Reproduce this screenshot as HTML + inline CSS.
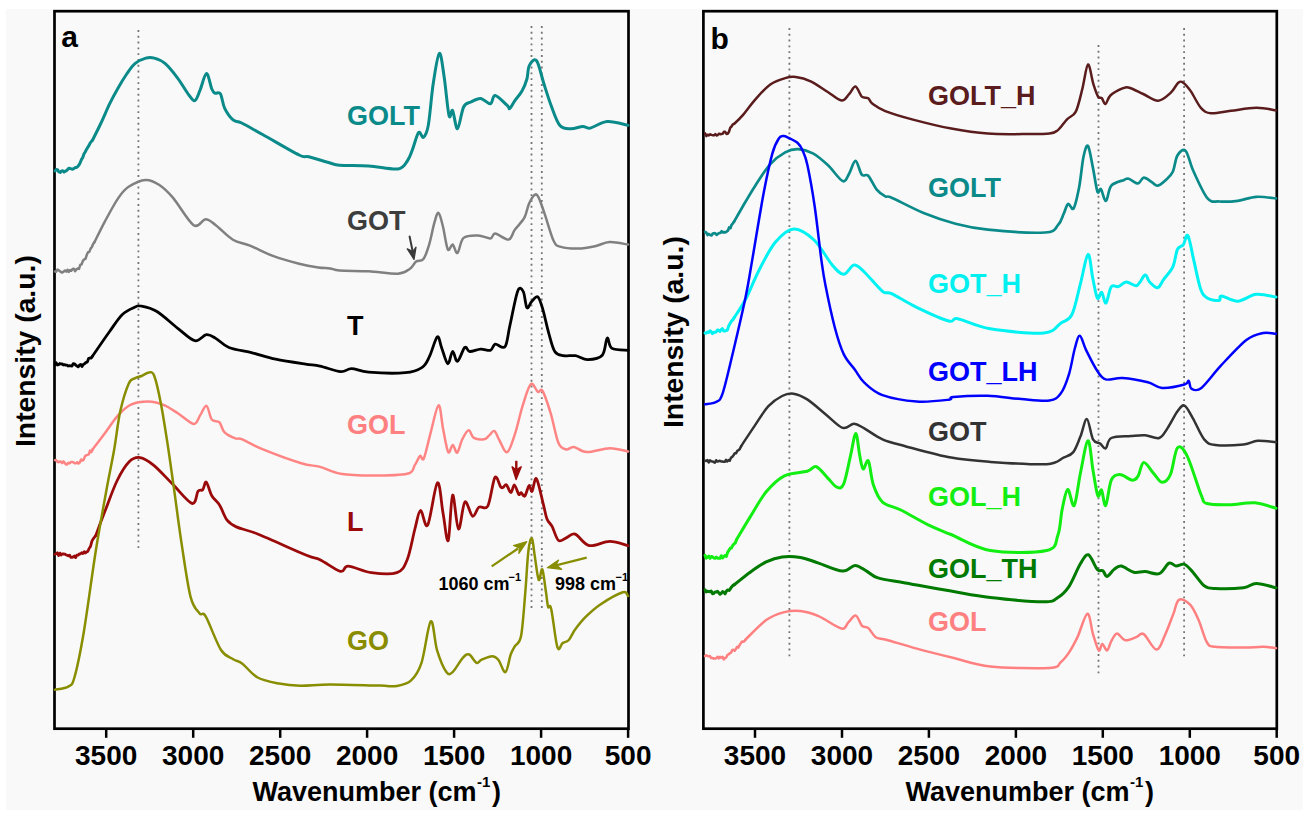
<!DOCTYPE html>
<html><head><meta charset="utf-8"><title>FTIR spectra</title>
<style>
html,body{margin:0;padding:0;background:#ffffff;width:1315px;height:819px;overflow:hidden}
svg{display:block}
text{font-family:"Liberation Sans",sans-serif;font-weight:bold}
</style></head><body>
<svg width="1315" height="819" viewBox="0 0 1315 819">
<rect x="6" y="9" width="1297" height="801" fill="#f9f9f9"/>

<rect x="54.5" y="11.2" width="574.0" height="717.5" fill="none" stroke="#000" stroke-width="2.7"/>
<line x1="106.2" y1="728.7" x2="106.2" y2="737.8" stroke="#000" stroke-width="2.5"/>
<text x="106.2" y="764.6" font-size="28" text-anchor="middle">3500</text>
<line x1="193.2" y1="728.7" x2="193.2" y2="737.8" stroke="#000" stroke-width="2.5"/>
<text x="193.2" y="764.6" font-size="28" text-anchor="middle">3000</text>
<line x1="280.2" y1="728.7" x2="280.2" y2="737.8" stroke="#000" stroke-width="2.5"/>
<text x="280.2" y="764.6" font-size="28" text-anchor="middle">2500</text>
<line x1="367.1" y1="728.7" x2="367.1" y2="737.8" stroke="#000" stroke-width="2.5"/>
<text x="367.1" y="764.6" font-size="28" text-anchor="middle">2000</text>
<line x1="454.1" y1="728.7" x2="454.1" y2="737.8" stroke="#000" stroke-width="2.5"/>
<text x="454.1" y="764.6" font-size="28" text-anchor="middle">1500</text>
<line x1="541.1" y1="728.7" x2="541.1" y2="737.8" stroke="#000" stroke-width="2.5"/>
<text x="541.1" y="764.6" font-size="28" text-anchor="middle">1000</text>
<line x1="628.1" y1="728.7" x2="628.1" y2="737.8" stroke="#000" stroke-width="2.5"/>
<text x="628.1" y="764.6" font-size="28" text-anchor="middle">500</text>
<text x="61.2" y="46.7" font-size="30">a</text>
<rect x="703.4" y="11.2" width="573.4" height="717.5" fill="none" stroke="#000" stroke-width="2.7"/>
<line x1="755.0" y1="728.7" x2="755.0" y2="737.8" stroke="#000" stroke-width="2.5"/>
<text x="755.0" y="764.6" font-size="28" text-anchor="middle">3500</text>
<line x1="842.0" y1="728.7" x2="842.0" y2="737.8" stroke="#000" stroke-width="2.5"/>
<text x="842.0" y="764.6" font-size="28" text-anchor="middle">3000</text>
<line x1="928.9" y1="728.7" x2="928.9" y2="737.8" stroke="#000" stroke-width="2.5"/>
<text x="928.9" y="764.6" font-size="28" text-anchor="middle">2500</text>
<line x1="1015.9" y1="728.7" x2="1015.9" y2="737.8" stroke="#000" stroke-width="2.5"/>
<text x="1015.9" y="764.6" font-size="28" text-anchor="middle">2000</text>
<line x1="1102.8" y1="728.7" x2="1102.8" y2="737.8" stroke="#000" stroke-width="2.5"/>
<text x="1102.8" y="764.6" font-size="28" text-anchor="middle">1500</text>
<line x1="1189.8" y1="728.7" x2="1189.8" y2="737.8" stroke="#000" stroke-width="2.5"/>
<text x="1189.8" y="764.6" font-size="28" text-anchor="middle">1000</text>
<line x1="1276.7" y1="728.7" x2="1276.7" y2="737.8" stroke="#000" stroke-width="2.5"/>
<text x="1276.7" y="764.6" font-size="28" text-anchor="middle">500</text>
<text x="710.6" y="48.5" font-size="30">b</text>
<text x="252.5" y="800.7" font-size="27">Wavenumber (cm<tspan dy="-14" dx="0.5" font-size="15">-1</tspan><tspan dy="14" dx="1.5">)</tspan></text>
<text x="905.5" y="800.7" font-size="27">Wavenumber (cm<tspan dy="-14" dx="0.5" font-size="15">-1</tspan><tspan dy="14" dx="1.5">)</tspan></text>
<text transform="translate(35,447) rotate(-90)" font-size="28.3">Intensity (a.u.)</text>
<text transform="translate(683,428) rotate(-90)" font-size="28.3">Intensity (a.u.)</text>
<line x1="138.4" y1="30" x2="138.4" y2="549" stroke="#767676" stroke-width="1.8" stroke-dasharray="1.9 3.9"/>
<line x1="531.5" y1="26" x2="531.5" y2="610" stroke="#767676" stroke-width="1.8" stroke-dasharray="1.9 3.9"/>
<line x1="541.8" y1="26" x2="541.8" y2="610" stroke="#767676" stroke-width="1.8" stroke-dasharray="1.9 3.9"/>
<line x1="789.4" y1="28" x2="789.4" y2="659" stroke="#767676" stroke-width="1.8" stroke-dasharray="1.9 3.9"/>
<line x1="1098.5" y1="45" x2="1098.5" y2="676" stroke="#767676" stroke-width="1.8" stroke-dasharray="1.9 3.9"/>
<line x1="1184.1" y1="28" x2="1184.1" y2="659" stroke="#767676" stroke-width="1.8" stroke-dasharray="1.9 3.9"/>
<path d="M55.0,170.9 L56.3,169.6 L57.6,169.7 L58.9,171.9 L60.2,172.4 L61.5,170.9 L62.8,170.8 L64.0,172.1 L65.2,171.3 L66.4,170.7 L67.6,169.6 L68.8,168.2 L70.0,168.5 L71.3,168.9 L72.6,169.3 L73.8,168.6 L75.1,167.6 L76.4,167.6 L77.7,166.6 L79.0,164.9 L80.2,162.8 L81.5,159.4 L82.7,157.7 L84.0,153.8 L85.2,152.0 L86.5,149.4 L87.7,147.4 L88.9,145.6 L90.1,143.1 L91.4,141.4 L92.6,140.0" fill="none" stroke="#0b8a8a" stroke-width="3.0" stroke-linejoin="round" stroke-linecap="round"/><path d="M92.6,140.0 C94.0,137.2 98.2,129.0 101.0,123.0 C103.8,117.0 106.8,109.8 109.6,103.9 C112.4,98.1 115.2,92.9 118.1,87.9 C120.9,82.9 123.9,78.1 126.7,74.0 C129.6,69.9 132.0,66.0 135.2,63.4 C138.4,60.8 142.6,59.0 145.8,58.1 C149.0,57.2 151.1,57.2 154.3,58.1 C157.5,59.0 161.1,60.0 165.0,63.4 C168.9,66.8 173.9,73.1 177.8,78.3 C181.7,83.5 185.6,90.6 188.4,94.3 C191.2,98.0 192.9,101.4 194.8,100.7 C196.8,100.0 198.2,94.5 200.1,90.0 C202.0,85.5 204.6,73.8 206.5,73.6 C208.4,73.4 210.4,85.7 211.8,89.0 C213.2,92.3 213.6,92.4 215.0,93.2 C216.4,94.0 218.8,91.2 220.4,93.7 C222.0,96.2 222.5,103.7 224.6,108.1 C226.7,112.5 230.2,117.4 233.1,119.9 C235.9,122.4 236.7,120.5 241.7,123.0 C246.7,125.5 253.4,129.5 263.0,134.8 C272.6,140.1 291.5,151.3 299.1,155.0 C306.7,158.7 303.6,155.4 308.7,156.7 C313.8,158.0 324.9,161.6 330.0,163.0 C335.1,164.4 333.1,164.8 339.5,165.3 C345.9,165.8 359.0,165.4 368.7,166.0 C378.4,166.6 391.4,169.9 397.9,169.0 C404.4,168.1 405.2,163.8 407.6,160.5 C410.0,157.2 410.7,154.2 412.5,149.5 C414.3,144.8 416.8,134.5 418.6,132.5 C420.4,130.5 421.8,138.5 423.4,137.3 C425.0,136.1 426.7,134.1 428.3,125.2 C429.9,116.3 431.4,95.8 433.2,83.8 C435.0,71.8 437.5,54.6 439.3,53.4 C441.1,52.2 442.5,66.2 444.1,76.5 C445.7,86.8 447.6,109.7 449.0,115.4 C450.4,121.1 451.2,108.4 452.6,110.6 C454.0,112.8 455.7,129.4 457.5,128.8 C459.3,128.2 461.4,111.5 463.6,107.0 C465.8,102.5 468.1,103.4 470.9,102.0 C473.7,100.6 477.4,98.1 480.6,98.4 C483.9,98.7 488.0,104.3 490.4,103.8 C492.8,103.3 492.4,95.2 495.2,95.5 C498.0,95.8 505.0,103.5 507.4,105.7 C509.8,107.9 508.6,109.4 509.8,108.6 C511.0,107.8 512.7,103.7 514.7,100.8 C516.7,97.9 520.0,94.7 522.0,91.1 C524.0,87.5 525.7,83.2 526.9,79.0 C528.1,74.8 527.7,68.6 529.3,65.6 C530.9,62.5 534.2,57.7 536.6,60.7 C539.0,63.7 541.5,76.3 543.9,83.8 C546.3,91.3 548.6,98.8 551.2,105.7 C553.8,112.6 556.5,121.3 559.7,125.2 C563.0,129.1 566.9,128.6 570.7,128.8 C574.6,129.0 579.6,126.5 582.8,126.4 C586.0,126.3 586.0,128.9 590.1,128.1 C594.2,127.3 600.9,122.0 607.2,121.5 C613.5,121.0 624.5,124.6 628.0,125.2" fill="none" stroke="#0b8a8a" stroke-width="3.0" stroke-linejoin="round" stroke-linecap="round"/>
<path d="M55.0,271.5 L56.2,271.7 L57.5,269.5 L58.7,270.3 L60.0,271.2 L61.2,272.2 L62.4,272.4 L63.7,271.5 L64.9,270.5 L66.2,271.7 L67.5,269.7 L68.7,272.0 L70.0,270.1 L71.3,270.8 L72.6,268.9 L73.9,268.7 L75.1,271.3 L76.4,269.4 L77.7,268.5 L79.0,268.9 L80.3,264.9 L81.6,264.3 L82.9,260.9 L84.2,259.3 L85.5,258.8 L86.8,254.8 L88.0,252.3 L89.3,251.9 L90.6,248.6 L91.9,247.0 L93.1,244.0 L94.4,242.3" fill="none" stroke="#808080" stroke-width="2.5" stroke-linejoin="round" stroke-linecap="round"/><path d="M94.4,242.3 C96.1,238.9 100.7,229.2 104.7,221.8 C108.7,214.4 114.4,203.7 118.4,197.9 C122.4,192.1 124.0,189.8 128.6,186.8 C133.1,183.8 140.6,180.2 145.7,179.9 C150.8,179.6 154.8,182.0 159.4,185.0 C164.0,188.0 167.4,191.2 173.1,197.9 C178.8,204.6 188.2,221.6 193.6,225.2 C199.0,228.8 201.9,219.2 205.6,219.2 C209.3,219.2 211.2,221.8 215.8,225.2 C220.4,228.6 227.2,236.3 232.9,239.7 C238.6,243.1 243.2,242.9 250.0,245.7 C256.8,248.4 265.4,253.2 273.6,256.2 C281.8,259.2 291.7,261.8 299.1,263.7 C306.6,265.6 313.2,266.7 318.3,267.5 C323.4,268.3 326.5,267.9 330.0,268.4 C333.5,268.9 333.1,270.0 339.5,270.5 C345.9,271.0 359.0,270.8 368.7,271.3 C378.4,271.8 391.0,274.1 397.9,273.7 C404.8,273.3 407.0,270.8 410.0,268.8 C413.0,266.8 413.9,263.1 416.1,261.5 C418.3,259.9 421.2,262.1 423.4,259.1 C425.6,256.1 427.7,249.4 429.5,243.3 C431.3,237.2 432.9,227.7 434.4,222.6 C435.9,217.5 437.1,212.3 438.5,212.9 C439.9,213.5 441.3,220.1 442.9,226.2 C444.4,232.3 446.2,246.3 447.8,249.4 C449.4,252.5 451.0,243.9 452.6,244.5 C454.2,245.1 455.7,254.1 457.5,253.0 C459.3,251.9 460.2,240.8 463.6,237.9 C467.1,235.0 473.7,235.4 478.2,235.5 C482.7,235.6 487.6,238.7 490.4,238.4 C493.2,238.1 492.2,233.3 495.2,233.5 C498.2,233.7 505.4,240.2 508.6,239.6 C511.9,239.0 512.1,233.6 514.7,229.9 C517.3,226.2 522.0,222.2 524.4,217.7 C526.8,213.2 527.3,206.9 529.3,203.1 C531.3,199.2 534.2,193.2 536.6,194.6 C539.0,196.0 541.1,203.9 543.9,211.6 C546.7,219.3 550.8,234.9 553.6,240.8 C556.4,246.7 556.8,245.6 560.9,246.9 C565.0,248.2 572.3,248.7 578.0,248.6 C583.7,248.5 589.7,247.3 595.0,246.2 C600.3,245.1 604.1,242.4 609.6,242.1 C615.1,241.8 624.9,244.1 628.0,244.5" fill="none" stroke="#808080" stroke-width="2.5" stroke-linejoin="round" stroke-linecap="round"/>
<path d="M55.0,364.8 L56.2,362.8 L57.4,365.0 L58.6,364.6 L59.8,363.5 L61.0,364.0 L62.2,363.9 L63.4,365.0 L64.6,364.7 L65.8,365.1 L67.0,365.2 L68.2,366.0 L69.5,365.7 L70.8,365.9 L72.0,366.0 L73.2,363.7 L74.5,363.9 L75.8,365.1 L77.0,366.1 L78.2,366.8 L79.5,365.1 L80.8,364.4 L82.0,366.5 L83.3,364.5 L84.7,363.6 L86.0,362.4 L87.3,362.1 L88.6,358.6 L89.9,357.9 L91.3,358.1 L92.6,356.0" fill="none" stroke="#000000" stroke-width="2.8" stroke-linejoin="round" stroke-linecap="round"/><path d="M92.6,356.0 C95.4,351.9 104.6,338.4 109.6,331.5 C114.6,324.6 118.1,318.6 122.4,314.5 C126.7,310.4 132.2,308.4 135.2,307.0 C138.2,305.6 136.9,305.3 140.5,306.0 C144.1,306.7 150.3,307.6 156.5,311.3 C162.7,315.0 171.4,323.4 177.8,328.3 C184.2,333.2 190.0,339.6 194.8,340.7 C199.6,341.8 202.9,335.0 206.5,334.7 C210.1,334.4 212.4,336.5 216.1,338.6 C219.8,340.7 222.9,345.1 228.9,347.5 C234.9,349.9 244.5,350.9 252.3,352.8 C260.1,354.8 266.8,357.3 275.7,359.2 C284.6,361.1 298.1,363.0 305.5,364.1 C312.9,365.2 314.1,364.8 320.0,366.1 C325.9,367.4 335.4,371.3 340.7,371.7 C346.0,372.1 346.9,368.5 351.6,368.6 C356.3,368.7 359.8,371.5 368.7,372.2 C377.6,372.9 396.3,373.5 405.2,372.7 C414.1,371.9 418.1,370.0 422.2,367.3 C426.2,364.6 427.0,361.5 429.5,356.4 C432.0,351.3 435.3,338.3 437.3,336.9 C439.3,335.5 439.9,343.4 441.7,347.9 C443.4,352.4 446.0,363.1 447.8,363.7 C449.6,364.3 451.0,351.9 452.6,351.5 C454.2,351.1 455.5,362.0 457.5,361.3 C459.5,360.6 462.8,349.0 464.8,347.4 C466.8,345.8 467.1,351.2 469.7,351.5 C472.3,351.8 477.2,349.3 480.6,349.1 C484.1,348.9 488.0,351.1 490.4,350.3 C492.8,349.5 492.8,344.8 495.2,344.2 C497.6,343.6 502.6,349.7 505.0,346.7 C507.4,343.7 507.7,335.2 509.8,326.0 C511.9,316.8 515.4,297.2 517.6,291.4 C519.8,285.6 521.7,288.7 523.2,291.4 C524.8,294.1 525.5,306.0 526.9,307.7 C528.3,309.4 529.9,303.4 531.7,301.6 C533.5,299.8 536.0,295.6 537.8,296.8 C539.6,298.0 540.9,302.8 542.7,308.9 C544.5,315.0 546.8,326.2 548.8,333.3 C550.8,340.4 552.4,347.8 554.8,351.5 C557.2,355.2 559.9,355.0 563.4,355.7 C566.9,356.4 571.5,355.0 575.5,355.7 C579.5,356.4 583.2,359.7 587.7,359.6 C592.2,359.5 599.0,358.8 602.3,355.2 C605.5,351.6 605.6,339.2 607.2,338.1 C608.8,337.0 608.5,346.4 612.0,348.4 C615.5,350.4 625.3,350.0 628.0,350.3" fill="none" stroke="#000000" stroke-width="2.8" stroke-linejoin="round" stroke-linecap="round"/>
<path d="M55.0,460.2 L56.2,460.1 L57.4,461.8 L58.6,462.2 L59.8,461.4 L61.0,461.8 L62.2,463.1 L63.4,461.4 L64.6,462.7 L65.8,464.4 L67.0,464.6 L68.3,462.8 L69.6,463.3 L70.8,462.1 L72.1,462.1 L73.4,462.3 L74.7,463.3 L76.0,463.3 L77.2,462.2 L78.5,463.6 L79.8,462.6 L81.1,459.5 L82.4,460.6 L83.6,459.9 L84.9,456.5 L86.2,455.2 L87.5,454.9 L88.8,454.4 L90.0,450.6 L91.3,452.1 L92.6,449.4" fill="none" stroke="#ff8585" stroke-width="2.5" stroke-linejoin="round" stroke-linecap="round"/><path d="M92.6,449.4 C94.7,446.6 101.2,438.1 105.4,432.4 C109.7,426.7 113.8,420.0 118.1,415.4 C122.3,410.8 125.9,407.0 130.9,404.7 C135.9,402.4 142.7,401.5 148.0,401.5 C153.3,401.5 157.9,402.8 162.9,404.7 C167.9,406.6 172.7,410.0 177.8,413.2 C182.9,416.4 190.0,423.5 193.7,423.9 C197.4,424.3 198.0,418.4 200.1,415.4 C202.2,412.4 204.6,405.1 206.5,405.8 C208.4,406.5 209.7,416.9 211.8,419.6 C213.9,422.3 217.2,420.1 219.3,422.2 C221.4,424.3 221.9,429.7 224.6,432.4 C227.3,435.1 232.5,437.3 235.3,438.4 C238.2,439.5 237.1,437.4 241.7,439.2 C246.3,441.0 253.1,445.4 263.0,449.4 C272.9,453.4 291.8,460.4 301.3,463.3 C310.8,466.2 313.5,465.1 320.0,466.9 C326.5,468.6 331.9,472.4 340.5,473.8 C349.1,475.2 360.2,475.6 371.3,475.6 C382.4,475.6 399.9,475.6 407.2,473.8 C414.5,472.0 412.8,467.9 414.9,464.9 C417.0,461.9 418.5,457.0 420.0,455.9 C421.5,454.8 422.1,462.1 423.8,458.5 C425.5,454.9 427.9,443.0 430.3,434.1 C432.8,425.2 436.4,406.2 438.5,405.4 C440.6,404.5 441.5,421.2 443.1,429.0 C444.7,436.8 446.6,449.5 448.2,452.1 C449.8,454.8 451.3,444.8 452.8,444.9 C454.3,445.0 455.6,453.6 457.2,452.6 C458.8,451.7 460.4,442.9 462.3,439.2 C464.2,435.5 466.8,430.5 468.7,430.3 C470.6,430.1 471.2,436.4 473.8,437.9 C476.4,439.4 481.5,439.6 484.1,439.2 C486.7,438.8 487.5,436.8 489.2,435.4 C490.9,434.0 492.7,430.1 494.4,431.0 C496.1,431.9 497.4,437.0 499.5,440.5 C501.6,444.0 504.6,453.2 507.2,452.1 C509.8,451.0 512.3,441.8 514.9,434.1 C517.5,426.4 520.0,414.2 522.6,405.9 C525.2,397.6 528.2,386.5 530.8,384.1 C533.3,381.8 535.9,390.7 537.9,391.8 C539.9,392.9 540.5,387.4 542.6,391.0 C544.8,394.6 548.1,404.9 550.8,413.6 C553.4,422.3 555.9,437.1 558.5,443.1 C561.1,449.1 563.7,448.9 566.2,449.5 C568.8,450.1 570.4,446.5 573.8,446.9 C577.2,447.3 580.7,451.9 586.7,452.1 C592.7,452.3 602.8,448.3 609.7,448.2 C616.6,448.1 625.0,450.9 628.0,451.5" fill="none" stroke="#ff8585" stroke-width="2.5" stroke-linejoin="round" stroke-linecap="round"/>
<path d="M55.0,554.3 L56.2,553.8 L57.4,552.8 L58.6,555.5 L59.9,553.1 L61.1,555.0 L62.3,554.0 L63.5,553.9 L64.7,554.1 L65.9,554.7 L67.1,555.2 L68.3,555.9 L69.6,555.1 L70.8,557.3 L72.0,557.3 L73.2,556.9 L74.4,556.0 L75.6,557.6 L76.8,555.1 L78.1,555.2 L79.3,554.0 L80.5,553.8 L81.7,552.7 L82.9,553.5 L84.2,551.7 L85.4,553.0 L86.6,551.9 L87.9,551.2 L89.2,548.3 L90.5,546.5 L91.9,541.2 L93.2,538.8 L94.5,537.2 L95.8,535.5" fill="none" stroke="#9a0a0a" stroke-width="2.8" stroke-linejoin="round" stroke-linecap="round"/><path d="M95.8,535.5 C97.3,531.4 101.4,520.3 105.0,511.1 C108.6,501.9 113.1,488.8 117.2,480.5 C121.3,472.2 125.6,465.4 129.4,461.6 C133.2,457.8 136.0,457.0 140.1,457.6 C144.2,458.2 148.5,461.0 153.8,465.3 C159.1,469.6 165.7,477.2 172.1,483.6 C178.5,490.0 187.7,502.1 192.0,503.4 C196.3,504.7 196.3,493.5 198.1,491.2 C199.9,488.9 201.3,491.2 202.7,489.7 C204.1,488.2 204.8,481.1 206.3,482.1 C207.8,483.1 209.6,492.0 211.8,495.8 C214.0,499.6 216.9,500.9 219.5,505.0 C222.1,509.1 224.3,516.6 227.1,520.2 C229.9,523.9 231.2,524.6 236.3,526.9 C241.4,529.2 245.9,529.3 257.6,534.0 C269.3,538.7 296.1,551.0 306.5,555.3 C316.9,559.6 314.3,557.0 320.0,559.7 C325.7,562.4 335.8,570.2 340.5,571.3 C345.2,572.4 343.1,566.0 348.2,566.2 C353.3,566.4 363.2,571.5 371.3,572.6 C379.4,573.7 390.9,574.8 396.9,572.6 C402.9,570.5 404.2,567.0 407.2,559.7 C410.2,552.4 412.7,537.2 414.9,529.0 C417.1,520.8 418.4,511.1 420.5,510.5 C422.6,509.9 424.9,529.7 427.7,525.1 C430.5,520.5 434.8,484.7 437.4,482.8 C440.0,480.9 441.3,504.0 443.1,513.6 C444.9,523.2 446.6,543.6 448.2,540.5 C449.8,537.4 450.9,497.0 452.6,495.1 C454.3,493.2 456.4,527.9 458.5,529.0 C460.6,530.1 462.5,504.1 464.9,502.0 C467.2,499.9 470.2,515.3 472.6,516.2 C475.0,517.1 476.4,508.9 479.0,507.2 C481.6,505.5 485.2,510.8 487.9,505.9 C490.5,500.9 492.8,480.7 494.9,477.5 C497.0,474.3 499.2,484.9 500.5,486.6 C501.8,488.3 501.8,487.8 502.8,487.5 C503.8,487.2 505.2,483.9 506.5,484.8 C507.8,485.7 509.5,492.7 510.8,492.7 C512.1,492.7 513.1,484.7 514.4,485.0 C515.7,485.3 517.6,493.0 518.7,494.3 C519.8,495.6 520.1,492.4 521.1,492.7 C522.1,493.0 523.5,497.2 524.8,496.0 C526.1,494.8 527.9,486.4 529.1,485.6 C530.3,484.8 530.9,492.5 532.1,491.3 C533.3,490.1 534.6,476.7 536.4,478.7 C538.2,480.7 541.4,496.6 543.1,503.3 C544.9,510.0 545.4,514.9 546.9,518.7 C548.4,522.6 550.2,522.8 552.1,526.4 C554.0,530.0 556.1,538.6 558.5,540.5 C560.9,542.4 563.4,539.0 566.2,537.9 C569.0,536.8 571.3,532.8 575.1,534.1 C578.9,535.4 583.4,544.4 589.2,545.6 C595.0,546.8 603.2,541.3 609.7,541.3 C616.2,541.3 625.0,544.9 628.0,545.6" fill="none" stroke="#9a0a0a" stroke-width="2.8" stroke-linejoin="round" stroke-linecap="round"/>
<path d="M55.0,689.7 C57.2,689.2 65.1,688.6 68.3,686.6 C71.5,684.6 71.9,686.4 74.4,677.5 C77.0,668.6 80.0,654.3 83.6,633.2 C87.2,612.1 92.0,574.7 95.8,550.8 C99.6,526.9 103.5,506.5 106.5,489.7 C109.5,472.9 111.8,463.1 114.1,450.0 C116.4,436.9 117.8,422.2 120.3,411.1 C122.8,400.0 126.3,388.9 128.8,383.4 C131.3,377.9 133.1,379.3 135.2,378.1 C137.3,376.9 139.3,376.9 141.6,376.0 C143.9,375.1 146.9,372.4 149.0,372.4 C151.1,372.4 152.4,371.0 154.3,376.0 C156.2,381.0 158.6,391.8 160.7,402.6 C162.8,413.4 164.9,426.9 167.1,440.9 C169.3,454.9 171.3,469.8 173.7,486.6 C176.1,503.4 178.5,523.3 181.3,541.6 C184.1,559.9 187.4,584.6 190.5,596.6 C193.6,608.6 197.1,610.1 199.6,613.4 C202.1,616.7 202.1,610.3 205.7,616.4 C209.3,622.5 216.4,642.9 221.0,650.0 C225.6,657.1 229.6,656.9 233.2,659.2 C236.8,661.5 238.3,660.7 242.4,663.7 C246.5,666.8 251.5,674.2 257.6,677.5 C263.7,680.8 271.9,682.2 279.0,683.6 C286.1,685.0 291.9,685.6 300.4,685.7 C308.9,685.9 316.7,684.5 330.0,684.5 C343.3,684.5 368.9,685.4 380.0,685.6 C391.1,685.9 391.4,686.9 396.6,686.0 C401.8,685.1 407.0,684.3 411.1,680.4 C415.2,676.5 418.2,672.6 421.5,662.8 C424.8,652.9 428.2,623.4 430.8,621.3 C433.4,619.2 434.5,641.9 437.1,650.4 C439.7,658.9 443.8,668.5 446.4,672.1 C449.0,675.7 449.8,674.5 452.6,672.1 C455.4,669.7 460.2,660.5 463.0,657.6 C465.8,654.7 466.9,653.6 469.2,654.5 C471.4,655.4 474.4,661.9 476.5,662.8 C478.6,663.7 479.1,660.8 481.7,659.7 C484.3,658.6 489.3,656.2 492.1,656.2 C494.9,656.2 496.1,657.1 498.3,659.7 C500.5,662.4 503.4,673.0 505.5,672.1 C507.6,671.2 509.1,658.8 510.7,654.5 C512.3,650.2 513.2,649.3 514.9,646.2 C516.6,643.1 519.4,644.8 521.1,635.8 C522.8,626.8 524.1,606.5 525.3,592.3 C526.5,578.1 527.3,559.8 528.4,550.8 C529.5,541.8 530.9,537.6 531.9,538.3 C532.9,539.0 533.5,548.0 534.6,554.9 C535.7,561.8 537.4,577.4 538.7,579.8 C540.0,582.2 541.1,567.3 542.3,569.4 C543.5,571.5 545.0,586.1 546.0,592.3 C547.0,598.5 547.2,604.0 548.1,606.8 C549.0,609.6 549.7,602.2 551.2,608.9 C552.8,615.6 555.5,641.5 557.4,647.2 C559.3,652.9 560.7,644.3 562.6,643.1 C564.5,641.9 566.7,642.2 568.8,640.0 C570.9,637.8 572.3,633.4 575.1,629.6 C577.9,625.8 581.2,621.4 585.4,617.2 C589.5,613.1 593.8,608.9 600.0,604.7 C606.2,600.6 618.1,593.8 622.8,592.3 C627.5,590.8 627.1,595.4 628.0,596.0" fill="none" stroke="#888e00" stroke-width="2.5" stroke-linejoin="round" stroke-linecap="round"/>
<text x="347" y="124.7" font-size="27" fill="#0b8a8a">GOLT</text>
<text x="347" y="230.4" font-size="27" fill="#3d3d3d">GOT</text>
<text x="347" y="334.5" font-size="27" fill="#000">T</text>
<text x="347" y="433.6" font-size="27" fill="#ff8080">GOL</text>
<text x="347" y="531" font-size="27" fill="#9a0a0a">L</text>
<text x="347" y="649.5" font-size="27" fill="#8a8c00">GO</text>
<text x="438.5" y="590.2" font-size="18">1060 cm<tspan dy="-9" dx="-1" font-size="11">−1</tspan></text>
<text x="555" y="590.2" font-size="18">998 cm<tspan dy="-9" dx="-0.5" font-size="11">−1</tspan></text>
<g stroke="#3a3a3a" stroke-width="2" fill="#3a3a3a" stroke-linecap="round" stroke-linejoin="round"><line x1="409.6" y1="236.5" x2="412.8" y2="252"/><polygon points="414,259.3 407.3,248.8 412.9,251.6 416,247.2" stroke-width="1.3"/></g>
<g stroke="#9a0a0a" stroke-width="2.4" fill="#9a0a0a" stroke-linejoin="round"><line x1="516.3" y1="460.8" x2="516.3" y2="471"/><polygon points="516.1,479.5 512.1,466.8 516.2,469.8 521.2,466.8" stroke-width="1.4"/></g>
<g stroke="#888e00" stroke-width="2.3" fill="#888e00" stroke-linejoin="round"><line x1="491.7" y1="566.4" x2="518" y2="548.5"/><polygon points="526.8,541.7 513.5,545.5 519.3,548 518.9,553.4" stroke-width="1.2"/></g>
<g stroke="#888e00" stroke-width="2.3" fill="#888e00" stroke-linejoin="round"><line x1="586.7" y1="557.6" x2="556" y2="565.3"/><polygon points="547.3,567.7 558.6,560.1 556.1,565.1 561.6,569.3" stroke-width="1.2"/></g>
<path d="M705.0,133.2 L706.3,136.1 L707.6,134.7 L708.9,135.4 L710.2,134.3 L711.5,134.9 L712.8,135.2 L714.0,135.3 L715.3,134.1 L716.5,135.5 L717.8,135.0 L719.0,133.7 L720.2,134.2 L721.5,134.0 L722.7,133.8 L724.0,131.8 L725.2,131.8 L726.5,133.9 L727.7,133.7 L729.0,131.7 L730.3,127.6 L731.5,126.5 L732.8,124.4 L734.1,123.9" fill="none" stroke="#5a1c1c" stroke-width="2.5" stroke-linejoin="round" stroke-linecap="round"/><path d="M734.1,123.9 C735.5,122.5 739.1,119.5 742.6,115.4 C746.1,111.3 750.8,104.6 755.4,99.4 C760.0,94.2 765.3,88.0 770.3,84.5 C775.3,81.0 781.0,79.3 785.2,78.1 C789.5,76.8 791.5,76.5 795.8,77.0 C800.0,77.5 805.4,78.8 810.7,81.3 C816.0,83.8 822.6,88.8 827.8,92.0 C832.9,95.2 838.0,100.2 841.6,100.5 C845.2,100.8 846.8,96.4 849.1,94.1 C851.4,91.8 853.4,86.2 855.5,86.6 C857.6,87.0 859.7,94.6 861.8,96.6 C863.9,98.5 866.4,97.1 868.2,98.3 C870.0,99.5 869.6,101.6 872.5,103.7 C875.4,105.8 878.5,108.4 885.3,111.1 C892.0,113.8 902.0,116.7 913.0,119.6 C924.0,122.5 938.8,126.3 951.3,128.6 C963.8,130.9 976.0,132.7 987.9,133.6 C999.8,134.5 1012.4,134.1 1022.7,134.1 C1033.0,134.1 1043.6,134.3 1049.5,133.6 C1055.4,132.9 1055.3,132.3 1058.2,129.9 C1061.1,127.5 1064.1,122.3 1067.0,119.3 C1069.9,116.2 1073.2,116.7 1075.8,111.6 C1078.4,106.5 1080.4,96.4 1082.4,88.6 C1084.4,80.8 1086.2,65.2 1088.0,64.5 C1089.8,63.8 1091.7,78.9 1093.4,84.2 C1095.1,89.5 1096.6,94.2 1098.0,96.5 C1099.4,98.8 1100.5,97.0 1101.8,98.2 C1103.0,99.5 1104.0,104.5 1105.5,104.0 C1107.0,103.5 1107.7,97.8 1110.6,95.2 C1113.5,92.6 1120.0,89.5 1123.1,88.2 C1126.2,87.0 1126.1,86.7 1129.4,87.7 C1132.8,88.7 1138.4,91.8 1143.2,94.0 C1148.0,96.2 1153.6,100.9 1158.2,100.7 C1162.8,100.5 1167.5,95.7 1170.8,92.7 C1174.1,89.7 1176.2,84.4 1178.3,82.7 C1180.4,81.0 1181.2,81.2 1183.3,82.7 C1185.4,84.2 1188.0,87.2 1190.9,91.4 C1193.8,95.6 1197.6,104.2 1200.9,107.8 C1204.2,111.4 1205.9,112.8 1210.9,113.3 C1215.9,113.8 1223.5,111.7 1231.0,110.8 C1238.5,109.9 1248.6,107.9 1256.1,107.8 C1263.6,107.7 1272.7,109.9 1276.0,110.3" fill="none" stroke="#5a1c1c" stroke-width="2.5" stroke-linejoin="round" stroke-linecap="round"/>
<path d="M705.0,231.8 L706.3,232.7 L707.6,235.0 L708.9,234.0 L710.2,235.0 L711.5,235.4 L712.8,233.6 L714.1,233.2 L715.3,233.4 L716.6,234.8 L717.8,233.9 L719.1,233.1 L720.3,233.0 L721.6,231.3 L722.8,232.4 L724.1,232.1 L725.3,232.4 L726.6,231.6 L727.9,230.7 L729.1,227.4 L730.4,228.2 L731.6,224.8 L732.9,223.3 L734.1,221.6" fill="none" stroke="#0b8a8a" stroke-width="2.7" stroke-linejoin="round" stroke-linecap="round"/><path d="M734.1,221.6 C735.5,219.1 739.1,212.7 742.6,206.7 C746.1,200.7 750.8,192.5 755.4,185.4 C760.0,178.3 765.3,169.6 770.3,164.1 C775.3,158.6 780.6,154.9 785.2,152.4 C789.8,149.9 793.4,149.0 798.0,149.2 C802.6,149.4 807.9,150.8 812.9,153.4 C817.9,156.1 822.8,160.5 827.8,165.1 C832.8,169.7 839.2,179.7 842.7,181.1 C846.2,182.5 847.0,177.1 849.1,173.7 C851.2,170.3 853.4,160.7 855.5,160.9 C857.6,161.1 859.7,172.2 861.8,174.7 C863.9,177.2 865.7,173.3 868.2,175.8 C870.7,178.3 873.9,186.2 876.7,189.6 C879.6,193.0 882.8,195.1 885.3,196.4 C887.8,197.8 885.3,194.9 891.7,197.7 C898.1,200.5 913.0,208.7 923.6,213.0 C934.2,217.3 944.8,220.9 955.5,223.7 C966.2,226.5 973.0,228.2 987.9,229.7 C1002.8,231.2 1033.3,233.3 1045.0,232.5 C1056.7,231.7 1055.1,227.9 1058.2,224.8 C1061.3,221.7 1062.1,217.3 1063.7,213.8 C1065.3,210.3 1066.4,204.9 1068.1,204.0 C1069.8,203.1 1071.8,211.2 1073.6,208.4 C1075.4,205.7 1077.4,196.1 1079.1,187.5 C1080.8,178.9 1082.0,163.6 1083.5,156.7 C1085.0,149.8 1086.5,144.3 1088.0,146.0 C1089.5,147.7 1091.2,159.5 1092.8,167.1 C1094.4,174.7 1096.1,187.8 1097.4,191.5 C1098.8,195.2 1099.5,187.6 1100.9,189.2 C1102.3,190.8 1104.3,201.4 1106.0,200.8 C1107.7,200.2 1108.3,189.2 1111.3,185.7 C1114.3,182.2 1121.2,181.1 1124.1,179.9 C1127.0,178.7 1126.4,178.1 1128.7,178.7 C1131.0,179.3 1135.5,183.6 1138.0,183.4 C1140.5,183.2 1141.5,177.8 1143.8,177.6 C1146.1,177.4 1149.6,180.8 1151.9,182.2 C1154.2,183.5 1155.4,186.1 1157.7,185.7 C1160.0,185.3 1163.3,182.2 1165.8,179.9 C1168.3,177.6 1170.9,175.9 1172.8,171.8 C1174.7,167.7 1175.3,159.0 1177.4,155.5 C1179.5,152.0 1182.9,148.2 1185.6,150.9 C1188.3,153.6 1190.0,163.9 1193.7,171.8 C1197.4,179.7 1203.3,193.5 1207.6,198.4 C1211.8,203.3 1214.2,201.1 1219.2,201.5 C1224.2,201.9 1231.6,201.6 1237.8,200.8 C1244.0,200.0 1249.9,197.2 1256.3,196.8 C1262.7,196.4 1272.7,198.1 1276.0,198.4" fill="none" stroke="#0b8a8a" stroke-width="2.7" stroke-linejoin="round" stroke-linecap="round"/>
<path d="M705.0,333.0 L706.2,333.2 L707.5,332.0 L708.7,332.4 L710.0,330.9 L711.2,331.6 L712.5,333.6 L713.7,332.5 L714.9,332.2 L716.2,332.0 L717.4,329.9 L718.7,330.3 L719.9,331.4 L721.2,329.7 L722.4,328.7 L723.7,331.0 L724.9,331.0 L726.2,330.6 L727.4,329.9 L728.8,325.8 L730.1,323.5 L731.5,321.0 L732.8,320.0 L734.2,317.6" fill="none" stroke="#00f2f2" stroke-width="3.0" stroke-linejoin="round" stroke-linecap="round"/><path d="M734.2,317.6 C736.1,314.6 741.4,307.3 745.6,299.3 C749.8,291.3 754.3,279.2 759.3,269.7 C764.2,260.2 769.6,249.1 775.3,242.3 C781.0,235.5 787.2,229.4 793.7,229.0 C800.2,228.6 807.7,234.0 814.1,240.0 C820.5,246.0 827.4,259.4 832.3,265.1 C837.2,270.8 840.1,274.2 843.7,274.2 C847.3,274.2 850.6,265.5 854.0,265.1 C857.4,264.7 859.5,267.6 864.3,272.0 C869.0,276.4 878.0,287.7 882.5,291.3 C887.0,294.9 885.9,290.9 891.6,293.6 C897.3,296.3 907.2,302.7 916.7,307.3 C926.2,311.9 941.9,319.1 948.7,321.0 C955.6,322.9 950.9,317.4 957.8,318.7 C964.7,320.0 976.0,326.4 990.3,328.8 C1004.6,331.2 1032.1,333.9 1043.8,333.0 C1055.5,332.1 1056.0,326.2 1060.7,323.2 C1065.4,320.1 1068.6,321.3 1071.9,314.7 C1075.2,308.1 1077.7,293.8 1080.4,283.8 C1083.1,273.8 1085.9,255.4 1088.0,254.5 C1090.1,253.6 1091.2,271.2 1092.8,278.5 C1094.4,285.8 1095.9,295.9 1097.4,298.2 C1098.9,300.5 1100.2,291.6 1101.6,292.4 C1103.0,293.2 1104.4,303.9 1106.0,302.9 C1107.6,301.9 1109.2,289.3 1111.3,286.6 C1113.3,283.9 1115.8,287.4 1118.3,286.6 C1120.8,285.8 1123.3,282.2 1126.4,282.0 C1129.5,281.8 1133.7,286.7 1136.8,285.5 C1139.9,284.3 1142.9,275.6 1145.0,275.0 C1147.1,274.4 1147.5,279.9 1149.6,282.0 C1151.7,284.1 1155.4,288.2 1157.7,287.8 C1160.0,287.4 1161.0,283.2 1163.5,279.7 C1166.0,276.2 1170.5,271.9 1172.8,266.9 C1175.1,261.9 1175.7,253.2 1177.4,249.5 C1179.1,245.8 1181.5,247.1 1183.2,244.8 C1185.0,242.5 1186.2,233.1 1187.9,235.6 C1189.7,238.1 1191.6,251.0 1193.7,259.9 C1195.8,268.8 1198.3,282.5 1200.6,288.9 C1202.9,295.3 1204.5,296.3 1207.6,298.2 C1210.7,300.1 1216.9,300.9 1219.2,300.5 C1221.5,300.1 1218.4,295.8 1221.5,295.9 C1224.6,296.0 1232.0,301.5 1237.8,301.2 C1243.6,300.9 1249.9,295.0 1256.3,294.3 C1262.7,293.6 1272.7,296.6 1276.0,297.1" fill="none" stroke="#00f2f2" stroke-width="3.0" stroke-linejoin="round" stroke-linecap="round"/>
<path d="M705.0,404.3 C706.8,403.9 713.0,403.9 716.0,402.0 C719.0,400.1 719.8,402.0 722.8,392.9 C725.8,383.8 730.4,363.2 734.2,347.2 C738.0,331.2 742.6,311.5 745.6,297.0 C748.6,282.5 749.2,277.6 752.2,260.1 C755.2,242.6 760.5,209.6 763.9,191.8 C767.3,174.0 769.9,162.3 772.4,153.4 C774.9,144.5 776.9,141.4 778.8,138.5 C780.6,135.6 782.0,136.2 783.5,136.0 C785.0,135.8 785.6,136.4 788.0,137.6 C790.4,138.8 795.3,140.9 797.7,143.0 C800.1,145.1 800.9,146.6 802.5,150.3 C804.1,154.0 805.4,155.6 807.4,165.0 C809.4,174.4 812.4,190.7 814.7,206.5 C817.0,222.3 819.6,246.9 821.4,260.1 C823.2,273.3 823.3,274.5 825.5,285.6 C827.7,296.7 831.6,315.3 834.6,326.7 C837.6,338.1 840.3,346.9 843.7,354.1 C847.1,361.3 851.7,365.2 855.1,370.0 C858.5,374.8 859.7,378.4 864.3,382.6 C868.9,386.8 873.8,392.0 882.5,395.1 C891.2,398.2 905.7,400.7 916.7,401.5 C927.7,402.3 942.6,400.4 948.7,399.7 C954.8,398.9 946.8,397.6 953.3,397.0 C959.8,396.4 976.2,395.4 987.5,395.8 C998.8,396.2 1011.0,398.3 1021.3,399.1 C1031.6,399.9 1042.8,401.4 1049.4,400.5 C1056.0,399.6 1057.4,397.9 1060.7,393.5 C1064.0,389.1 1066.8,381.3 1069.1,373.8 C1071.4,366.3 1073.0,354.8 1074.8,348.5 C1076.6,342.2 1077.9,335.6 1079.8,335.8 C1081.7,336.0 1083.1,344.0 1086.0,349.9 C1088.9,355.8 1094.0,366.1 1097.3,371.0 C1100.6,375.9 1101.5,378.2 1105.7,379.4 C1109.9,380.6 1115.6,377.5 1122.6,378.0 C1129.6,378.5 1141.3,380.6 1147.9,382.2 C1154.5,383.8 1155.9,387.5 1162.0,387.9 C1168.1,388.3 1180.0,385.7 1184.5,384.5 C1189.0,383.3 1187.5,380.1 1188.7,380.8 C1189.9,381.5 1189.4,387.5 1191.5,388.7 C1193.6,389.9 1196.5,391.8 1201.4,387.9 C1206.3,384.0 1213.6,373.4 1221.1,365.4 C1228.6,357.4 1239.4,345.4 1246.4,340.0 C1253.4,334.6 1258.4,334.0 1263.3,333.0 C1268.2,332.0 1273.9,333.7 1276.0,333.8" fill="none" stroke="#0000ff" stroke-width="2.5" stroke-linejoin="round" stroke-linecap="round"/>
<path d="M705.0,460.6 L706.2,461.0 L707.5,460.1 L708.7,462.5 L710.0,460.3 L711.2,461.2 L712.5,461.4 L713.7,462.1 L714.9,462.7 L716.2,460.2 L717.4,461.6 L718.6,461.2 L719.9,460.8 L721.1,461.4 L722.3,461.5 L723.5,461.7 L724.8,461.7 L726.0,459.9 L727.2,461.5 L728.5,460.1 L729.7,460.8 L731.0,457.7 L732.2,457.0 L733.5,455.2 L734.8,453.2 L736.0,453.3 L737.3,450.9 L738.6,450.2 L739.8,449.0 L741.1,446.2" fill="none" stroke="#333333" stroke-width="2.5" stroke-linejoin="round" stroke-linecap="round"/><path d="M741.1,446.2 C743.4,442.8 750.2,432.3 754.8,425.6 C759.3,418.9 763.8,411.1 768.4,406.2 C773.0,401.3 777.9,398.1 782.1,396.0 C786.3,393.9 789.3,393.1 793.5,393.7 C797.7,394.3 801.9,396.0 807.2,399.4 C812.5,402.8 819.6,409.4 825.5,414.2 C831.4,418.9 837.9,426.3 842.6,427.9 C847.4,429.5 850.4,423.7 854.0,423.8 C857.6,423.9 859.5,425.8 864.3,428.4 C869.0,431.0 875.7,436.3 882.5,439.3 C889.3,442.3 893.9,443.1 905.3,446.2 C916.7,449.2 936.8,455.0 951.0,457.6 C965.2,460.2 974.4,460.8 990.3,461.9 C1006.2,463.0 1034.4,464.9 1046.6,464.2 C1058.8,463.5 1059.0,459.7 1063.5,457.7 C1068.0,455.7 1070.5,455.6 1073.3,452.1 C1076.1,448.6 1078.1,442.1 1080.4,436.6 C1082.7,431.1 1084.8,418.6 1086.9,419.1 C1089.0,419.6 1090.8,435.3 1093.0,439.4 C1095.2,443.5 1098.0,442.1 1100.1,443.6 C1102.2,445.1 1103.8,449.3 1105.7,448.4 C1107.6,447.5 1107.1,440.1 1111.3,438.0 C1115.5,435.9 1125.4,436.5 1131.0,436.0 C1136.6,435.5 1140.4,434.9 1145.1,435.2 C1149.8,435.5 1155.5,439.2 1159.2,438.0 C1163.0,436.8 1164.5,432.6 1167.6,428.1 C1170.6,423.7 1174.7,415.1 1177.5,411.3 C1180.3,407.6 1181.9,404.4 1184.5,405.6 C1187.1,406.8 1189.6,412.7 1192.9,418.3 C1196.2,423.9 1200.5,434.9 1204.2,439.4 C1208.0,443.8 1208.8,444.1 1215.4,445.0 C1222.0,445.9 1236.6,445.2 1243.6,444.5 C1250.6,443.8 1252.2,441.2 1257.6,440.8 C1263.0,440.4 1272.9,442.0 1276.0,442.2" fill="none" stroke="#333333" stroke-width="2.5" stroke-linejoin="round" stroke-linecap="round"/>
<path d="M705.0,555.3 L706.3,558.2 L707.5,557.2 L708.8,556.0 L710.0,558.3 L711.3,556.6 L712.5,556.8 L713.8,558.0 L715.0,558.3 L716.3,557.1 L717.6,558.2 L718.8,558.2 L720.1,558.3 L721.3,555.7 L722.6,557.9 L723.8,556.6 L725.1,555.5 L726.4,556.4 L727.6,552.4 L728.9,550.4 L730.2,548.3 L731.4,548.0 L732.7,545.5 L734.0,543.8 L735.2,543.1 L736.5,539.7" fill="none" stroke="#12ee12" stroke-width="3.0" stroke-linejoin="round" stroke-linecap="round"/><path d="M736.5,539.7 C738.8,535.9 745.2,524.9 750.2,516.9 C755.2,508.9 760.5,498.6 766.2,491.8 C771.9,485.0 777.6,479.2 784.4,475.8 C791.2,472.4 801.9,472.8 807.2,471.3 C812.5,469.8 813.0,465.6 816.4,466.7 C819.8,467.8 824.4,474.7 827.8,478.1 C831.2,481.5 834.2,486.2 836.9,487.2 C839.5,488.1 841.4,489.1 843.7,483.8 C846.0,478.5 848.6,463.7 850.6,455.3 C852.6,446.9 854.3,433.6 855.8,433.6 C857.3,433.6 858.5,449.4 859.7,455.3 C860.9,461.2 861.7,468.1 863.1,469.0 C864.5,469.9 866.7,458.3 868.4,461.0 C870.1,463.7 871.0,478.1 873.4,485.0 C875.8,491.9 877.9,497.9 882.5,502.1 C887.1,506.3 893.2,506.2 900.8,510.0 C908.4,513.8 919.8,520.8 928.2,524.9 C936.6,529.0 940.6,530.2 951.0,534.5 C961.4,538.8 974.4,547.8 990.3,550.5 C1006.2,553.2 1035.3,553.1 1046.6,550.5 C1057.9,547.9 1055.3,541.9 1057.9,535.1 C1060.5,528.3 1060.5,517.3 1062.1,509.7 C1063.7,502.1 1065.7,490.2 1067.7,489.5 C1069.7,488.8 1072.1,508.2 1074.2,505.5 C1076.3,502.8 1078.1,484.0 1080.4,473.2 C1082.7,462.4 1085.9,441.3 1088.0,440.8 C1090.1,440.3 1091.4,461.2 1093.0,470.3 C1094.6,479.4 1096.4,492.4 1097.8,495.7 C1099.2,499.0 1100.2,488.4 1101.5,490.0 C1102.8,491.6 1104.1,507.1 1105.7,505.5 C1107.3,503.9 1109.0,485.3 1111.3,480.2 C1113.6,475.1 1116.3,474.6 1119.8,474.6 C1123.3,474.6 1129.4,480.0 1132.4,480.2 C1135.5,480.4 1136.2,478.9 1138.1,476.0 C1140.0,473.1 1141.1,463.0 1143.7,462.5 C1146.3,462.0 1150.5,469.9 1153.5,473.2 C1156.5,476.5 1159.2,482.0 1162.0,482.2 C1164.8,482.4 1167.8,480.3 1170.4,474.6 C1173.0,468.9 1174.7,450.9 1177.5,447.8 C1180.3,444.8 1183.3,448.3 1187.3,456.3 C1191.3,464.3 1198.1,487.8 1201.4,495.7 C1204.7,503.6 1202.3,502.0 1207.0,503.5 C1211.7,505.0 1221.5,504.8 1229.5,504.7 C1237.5,504.6 1247.0,502.1 1254.8,502.7 C1262.5,503.3 1272.5,507.4 1276.0,508.3" fill="none" stroke="#12ee12" stroke-width="3.0" stroke-linejoin="round" stroke-linecap="round"/>
<path d="M705.0,589.8 L706.2,591.9 L707.5,591.2 L708.7,591.4 L710.0,591.7 L711.2,591.0 L712.5,593.7 L713.7,593.6 L715.0,592.1 L716.2,592.1 L717.5,591.4 L718.8,592.7 L720.0,594.2 L721.3,593.2 L722.6,591.6 L723.8,592.1 L725.1,593.8 L726.4,591.1 L727.7,590.0 L729.0,590.4 L730.3,588.9 L731.6,586.9 L732.9,585.4 L734.2,584.8" fill="none" stroke="#007a00" stroke-width="3.0" stroke-linejoin="round" stroke-linecap="round"/><path d="M734.2,584.8 C736.9,582.7 744.9,576.0 750.2,572.2 C755.5,568.4 760.9,564.5 766.2,561.9 C771.5,559.3 776.4,557.6 782.1,556.9 C787.8,556.1 794.3,556.4 800.4,557.4 C806.5,558.4 811.6,560.8 818.6,563.1 C825.6,565.4 836.5,570.7 842.6,571.1 C848.7,571.5 851.1,565.4 855.1,565.4 C859.1,565.4 862.8,569.0 866.6,571.1 C870.4,573.2 871.5,575.9 878.0,577.9 C884.5,579.9 893.1,580.7 905.3,582.9 C917.5,585.1 936.8,588.7 951.0,591.1 C965.2,593.5 974.8,595.7 990.3,597.5 C1005.8,599.3 1032.5,601.8 1043.8,601.8 C1055.1,601.8 1053.7,600.1 1057.9,597.5 C1062.1,594.9 1065.3,591.9 1069.1,586.3 C1072.8,580.7 1077.2,569.0 1080.4,563.8 C1083.6,558.5 1085.5,553.9 1088.3,554.8 C1091.1,555.7 1094.9,566.7 1097.3,569.4 C1099.7,572.1 1101.3,569.6 1102.9,570.8 C1104.5,572.0 1105.2,576.6 1107.1,576.4 C1109.0,576.2 1111.8,571.1 1114.1,569.4 C1116.4,567.7 1117.9,565.5 1121.2,566.0 C1124.5,566.5 1129.8,571.3 1133.8,572.2 C1137.8,573.1 1140.9,571.4 1145.1,571.6 C1149.3,571.8 1155.2,575.0 1159.2,573.6 C1163.2,572.2 1166.2,564.5 1169.0,563.2 C1171.8,561.9 1173.4,565.8 1176.0,566.0 C1178.6,566.2 1181.7,563.3 1184.5,564.3 C1187.3,565.3 1189.6,568.6 1192.9,572.2 C1196.2,575.8 1200.5,583.0 1204.2,585.7 C1208.0,588.4 1208.8,588.2 1215.4,588.5 C1222.0,588.8 1236.8,588.5 1243.6,587.7 C1250.4,586.9 1250.8,583.5 1256.2,583.5 C1261.6,583.5 1272.7,587.0 1276.0,587.7" fill="none" stroke="#007a00" stroke-width="3.0" stroke-linejoin="round" stroke-linecap="round"/>
<path d="M705.0,656.1 L706.2,655.2 L707.5,656.0 L708.7,656.4 L710.0,656.0 L711.2,658.1 L712.5,658.0 L713.7,658.5 L715.0,658.6 L716.2,658.3 L717.5,656.8 L718.8,658.4 L720.0,656.9 L721.3,657.7 L722.6,656.8 L723.8,659.4 L725.1,658.0 L726.3,657.3 L727.5,654.9 L728.7,654.3 L729.9,653.3 L731.1,652.6 L732.3,649.9 L733.5,649.7 L734.7,650.8 L736.0,648.9 L737.2,646.7 L738.4,647.6 L739.6,645.0 L740.8,643.3 L742.0,641.5 L743.2,641.7 L744.4,641.3 L745.6,639.5" fill="none" stroke="#ff8080" stroke-width="2.5" stroke-linejoin="round" stroke-linecap="round"/><path d="M745.6,639.5 C749.0,636.3 759.7,624.7 766.2,620.1 C772.7,615.5 778.7,613.6 784.4,612.1 C790.1,610.6 794.7,610.3 800.4,611.0 C806.1,611.7 811.8,613.3 818.6,616.2 C825.5,619.1 836.5,627.6 841.5,628.6 C846.5,629.6 845.9,624.6 848.3,622.4 C850.7,620.2 853.5,615.0 855.8,615.6 C858.1,616.2 859.9,623.7 862.0,625.8 C864.1,627.9 866.1,626.2 868.4,628.1 C870.7,630.0 872.6,635.2 875.7,637.2 C878.8,639.2 880.3,638.1 887.1,640.0 C893.9,641.9 905.6,645.6 916.7,648.6 C927.8,651.6 941.5,655.0 953.8,658.0 C966.1,661.0 974.4,664.9 990.3,666.5 C1006.2,668.1 1037.7,668.6 1049.4,667.9 C1061.1,667.2 1057.4,664.8 1060.7,662.2 C1064.0,659.6 1066.3,656.6 1069.1,652.4 C1071.9,648.2 1074.5,643.3 1077.6,636.9 C1080.6,630.5 1084.8,614.3 1087.4,613.8 C1090.0,613.3 1091.1,628.0 1093.0,634.1 C1094.9,640.2 1097.2,648.8 1098.7,650.4 C1100.2,652.0 1100.9,644.0 1102.3,644.0 C1103.7,644.0 1105.6,650.9 1107.1,650.4 C1108.6,649.9 1109.6,643.9 1111.3,641.1 C1113.0,638.3 1114.7,633.6 1117.0,633.5 C1119.3,633.4 1122.1,639.7 1125.4,640.3 C1128.7,640.9 1133.7,637.9 1136.7,636.9 C1139.8,635.9 1140.4,632.0 1143.7,634.1 C1147.0,636.2 1152.9,649.4 1156.4,649.6 C1159.9,649.8 1162.0,641.4 1164.8,635.5 C1167.6,629.6 1170.8,620.4 1173.2,614.4 C1175.6,608.4 1176.1,601.4 1178.9,599.8 C1181.7,598.2 1186.8,601.2 1190.1,604.6 C1193.4,608.0 1195.8,613.7 1198.6,620.0 C1201.4,626.3 1204.2,638.0 1207.0,642.5 C1209.8,647.0 1209.3,645.9 1215.4,646.8 C1221.5,647.6 1235.6,647.6 1243.6,647.6 C1251.6,647.6 1257.9,646.7 1263.3,646.8 C1268.7,646.9 1273.9,648.0 1276.0,648.2" fill="none" stroke="#ff8080" stroke-width="2.5" stroke-linejoin="round" stroke-linecap="round"/>
<text x="928" y="105.1" font-size="27" fill="#5a1c1c">GOLT_H</text>
<text x="928" y="197.4" font-size="27" fill="#0b8a8a">GOLT</text>
<text x="928" y="292.8" font-size="27" fill="#00f0f0">GOT_H</text>
<text x="928" y="380.8" font-size="27" fill="#0000ff">GOT_LH</text>
<text x="928" y="440.5" font-size="27" fill="#333333">GOT</text>
<text x="928" y="506.4" font-size="27" fill="#12ee12">GOL_H</text>
<text x="928" y="578.4" font-size="27" fill="#007a00">GOL_TH</text>
<text x="928" y="631.4" font-size="27" fill="#ff8080">GOL</text>
</svg></body></html>
